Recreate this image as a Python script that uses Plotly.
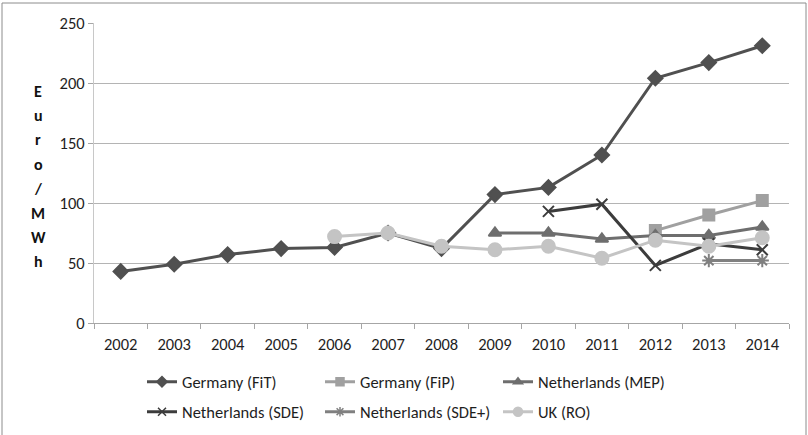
import plotly.graph_objects as go

years = [str(y) for y in range(2002, 2015)]

germany_fit_years = years
germany_fit = [43, 49, 57, 62, 63, 75, 62, 107, 113, 140, 204, 217, 231]

germany_fip_years = ["2012", "2013", "2014"]
germany_fip = [77, 90, 102]

nl_mep_years = ["2009", "2010", "2011", "2012", "2013", "2014"]
nl_mep = [75, 75, 70, 73, 73, 80]

nl_sde_years = ["2010", "2011", "2012", "2013", "2014"]
nl_sde = [93, 99, 48, 66, 61]

nl_sdep_years = ["2013", "2014"]
nl_sdep = [52, 52]

uk_ro_years = ["2006", "2007", "2008", "2009", "2010", "2011", "2012", "2013", "2014"]
uk_ro = [72, 75, 64, 61, 64, 54, 69, 64, 71]

axis_title_letters = ["E", "u", "r", "o", "/", "M", "W", "h"]

FONT = "Carlito, 'Liberation Sans Narrow', 'Liberation Sans', Arial, sans-serif"
TXT = "#1e1e1e"
FS = 16.5

series = [
    ("Germany (FiT)", germany_fit_years, germany_fit, "#505050", "diamond", 11, 8, "legend"),
    ("Germany (FiP)", germany_fip_years, germany_fip, "#a0a0a0", "square", 11, 8, "legend"),
    ("Netherlands (MEP)", nl_mep_years, nl_mep, "#6e6e6e", "triangle-up", 11, 8, "legend"),
    ("Netherlands (SDE)", nl_sde_years, nl_sde, "#3c3c3c", "x-thin-open", 11, 8, "legend2"),
    ("Netherlands (SDE+)", nl_sdep_years, nl_sdep, "#808080", "asterisk-open", 11, 8, "legend2"),
    ("UK (RO)", uk_ro_years, uk_ro, "#c4c4c4", "circle", 13, 9, "legend2"),
]

fig = go.Figure()
for name, xs, ys, color, sym, size, lsize, leg in series:
    fig.add_trace(go.Scatter(
        x=xs, y=ys, name=name, mode="lines+markers",
        line=dict(color=color, width=3),
        marker=dict(symbol=sym, size=size, color=color,
                    line=dict(color=color, width=2)),
        showlegend=False,
    ))
# legend-only entries with smaller symbols
for name, xs, ys, color, sym, size, lsize, leg in series:
    fig.add_trace(go.Scatter(
        x=[None], y=[None], name=name, mode="lines+markers",
        line=dict(color=color, width=3),
        marker=dict(symbol=sym, size=lsize, color=color,
                    line=dict(color=color, width=1.5)),
        legend=leg, showlegend=True,
    ))

W, H = 808, 435
ml, mr, mt, mb = 94, 19, 23, 112
pw, ph = W - ml - mr, H - mt - mb

legfont = dict(family=FONT, size=FS, color=TXT)
fig.update_layout(
    width=W, height=H,
    margin=dict(l=ml, r=mr, t=mt, b=mb, autoexpand=False),
    paper_bgcolor="white", plot_bgcolor="white",
    font=dict(family=FONT, size=FS, color=TXT),
    showlegend=True,
    legend=dict(orientation="h", x=(142 - ml) / pw, y=-(382 - 323) / ph,
                xanchor="left", yanchor="middle",
                entrywidth=133, entrywidthmode="pixels",
                font=legfont, itemwidth=30, tracegroupgap=0),
    legend2=dict(orientation="h", x=(142 - ml) / pw, y=-(412 - 323) / ph,
                 xanchor="left", yanchor="middle",
                 entrywidth=133, entrywidthmode="pixels",
                 font=legfont, itemwidth=30, tracegroupgap=0),
    xaxis=dict(type="category", categoryorder="array", categoryarray=years,
               range=[-0.5, len(years) - 0.5], automargin=False,
               showline=True, linecolor="#a6a6a6", linewidth=1,
               ticks="outside", tickson="boundaries", ticklen=5, tickcolor="#a6a6a6",
               ticklabelstandoff=6,
               showgrid=False, tickfont=dict(size=FS, color=TXT)),
    yaxis=dict(range=[0, 250], dtick=50, showgrid=True, gridcolor="#b4b4b4", gridwidth=1,
               showline=True, linecolor="#c8c8c8", linewidth=1, automargin=False,
               ticks="outside", ticklen=5, tickcolor="#a6a6a6", zeroline=False,
               tickfont=dict(size=FS, color=TXT)),
)

# vertical stacked axis title
for i, ch in enumerate(axis_title_letters):
    ypx = 91 + i * 24.4
    fig.add_annotation(text="<b>%s</b>" % ch, xref="paper", yref="paper",
                       x=(38 - ml) / pw, y=1 - (ypx - mt) / ph,
                       xanchor="center", yanchor="middle", showarrow=False,
                       font=dict(family=FONT, size=16, color="#111111"))

# outer chart border (bottom edge lies outside the picture)
fig.add_shape(type="rect", xref="paper", yref="paper",
              x0=(2 - ml) / pw, x1=(806 - ml) / pw,
              y0=1 - (440 - mt) / ph, y1=1 - (3 - mt) / ph,
              line=dict(color="#8c8c8c", width=1), fillcolor="rgba(0,0,0,0)",
              layer="below")

fig.write_html("out.html")
